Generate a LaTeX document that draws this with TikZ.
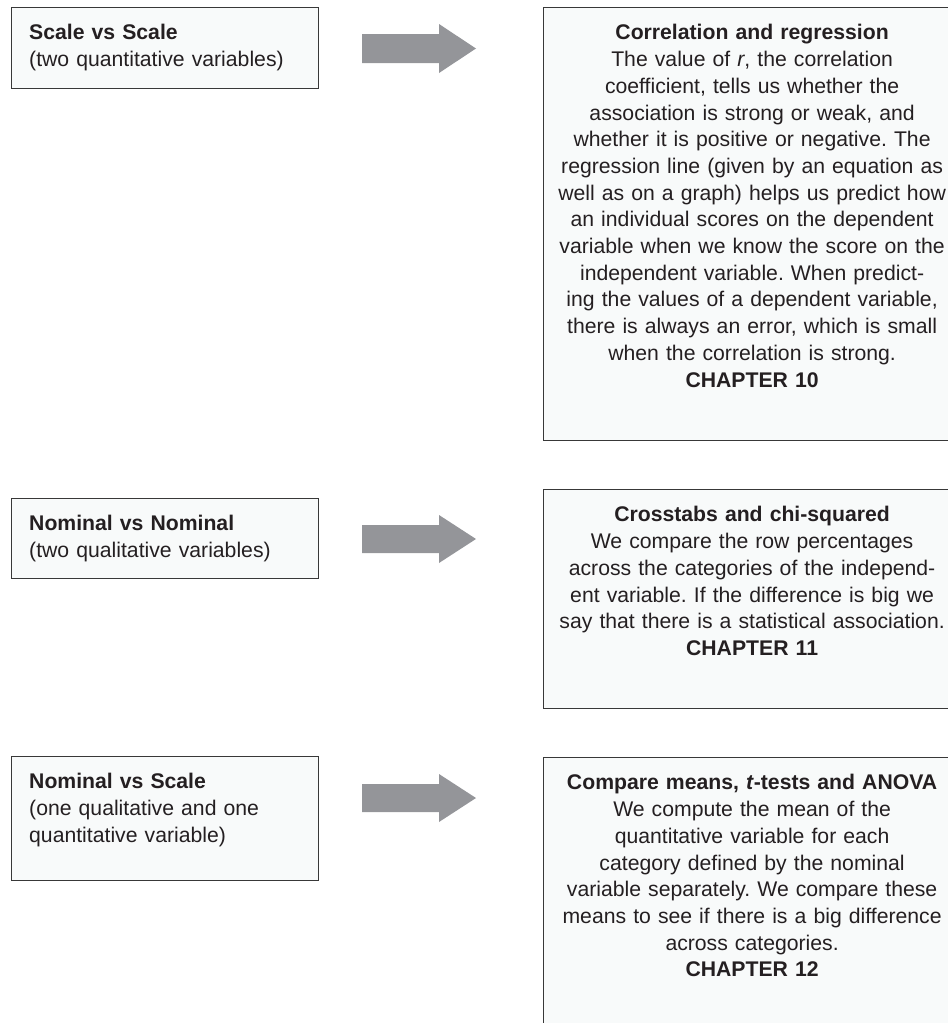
\documentclass[tikz,border=0pt]{standalone}
\usepackage{fontspec}
\setmainfont{Liberation Sans}
\usepackage{tikz}
\usetikzlibrary{positioning}
\definecolor{boxfill}{rgb}{0.972,0.98,0.98}
\definecolor{boxline}{rgb}{0.22,0.22,0.22}
\definecolor{arrowgray}{rgb}{0.58,0.584,0.6}
\definecolor{ink}{rgb}{0.14,0.12,0.13}
\frenchspacing

\tikzset{
  box/.style={draw=boxline, line width=1.2pt, fill=boxfill, anchor=north west, inner sep=0pt},
  lefttext/.style={inner sep=0pt, text width=271pt, align=left, text=ink,
    font=\fontsize{21.2}{26.7}\selectfont},
  righttext/.style={inner sep=0pt, text width=405pt, align=center, text=ink,
    font=\fontsize{21.2}{26.7}\selectfont}
}

\begin{document}
\begin{tikzpicture}[x=1pt,y=-1pt]
	\useasboundingbox (0,0) rectangle (948,1023);
	\clip (0,0) rectangle (948,1023);
	
	%Scale vs Scale
	\node[box, minimum width=307pt, minimum height=81pt] (scale) at (11,7) {};
	\node[lefttext, below right=17.4pt and 18pt of scale.north west] (scaletext)
		{\textbf{Scale vs Scale}\\(two quantitative variables)};
	\fill[arrowgray] (362,34) -- (439,34) -- (439,24) -- (476,48.5) -- (439,73) -- (439,63) -- (362,63) -- cycle;
	\node[box, minimum width=417pt, minimum height=433pt] (corr) at (543,7) {};
	\node[righttext, below=17.4pt of corr.north] (corrtext)
		{\textbf{Correlation and regression}\\
		The value of \textit{r}, the correlation\\
		coefficient, tells us whether the\\
		association is strong or weak, and\\
		whether it is positive or negative. The\\
		regression line (given by an equation as\\
		well as on a graph) helps us predict how\\
		an individual scores on the dependent\\
		variable when we know the score on the\\
		independent variable. When predict-\\
		ing the values of a dependent variable,\\
		there is always an error, which is small\\
		when the correlation is strong.\\
		\textbf{CHAPTER 10}};
	
	%Nominal vs Nominal
	\node[box, minimum width=307pt, minimum height=80pt] (nominal) at (11,498) {};
	\node[lefttext, below right=17.4pt and 18pt of nominal.north west] (nominaltext)
		{\textbf{Nominal vs Nominal}\\(two qualitative variables)};
	\fill[arrowgray] (362,525) -- (439,525) -- (439,515) -- (476,539) -- (439,563) -- (439,553) -- (362,553) -- cycle;
	\node[box, minimum width=417pt, minimum height=219pt] (chisq) at (543,489) {};
	\node[righttext, below=17.4pt of chisq.north] (chisqtext)
		{\textbf{Crosstabs and chi-squared}\\
		We compare the row percentages\\
		across the categories of the independ-\\
		ent variable. If the difference is big we\\
		say that there is a statistical association.\\
		\textbf{CHAPTER 11}};
	
	%Nominal vs Scale
	\node[box, minimum width=307pt, minimum height=124pt] (mixed) at (11,756) {};
	\node[lefttext, below right=17.4pt and 18pt of mixed.north west] (mixedtext)
		{\textbf{Nominal vs Scale}\\(one qualitative and one\\quantitative variable)};
	\fill[arrowgray] (362,784) -- (439,784) -- (439,774) -- (476,798) -- (439,822) -- (439,812) -- (362,812) -- cycle;
	\node[box, minimum width=417pt, minimum height=290pt] (means) at (543,757) {};
	\node[righttext, below=17.4pt of means.north] (meanstext)
		{\textbf{Compare means, \textit{t}-tests and ANOVA}\\
		We compute the mean of the\\
		quantitative variable for each\\
		category defined by the nominal\\
		variable separately. We compare these\\
		means to see if there is a big difference\\
		across categories.\\
		\textbf{CHAPTER 12}};
\end{tikzpicture}
\end{document}
